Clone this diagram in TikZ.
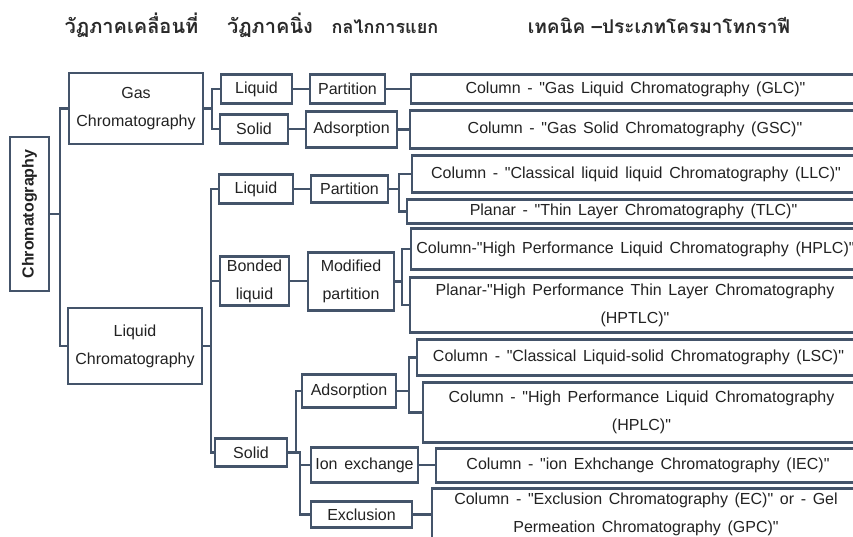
\documentclass[tikz,border=0pt]{standalone}
\usepackage{fontspec}
\setmainfont{Liberation Sans}[WordSpace=1.5,Ligatures=TeXOff]
\newfontfamily\thaifont[Script=Thai]{Loma}
\usetikzlibrary{calc}
\definecolor{bord}{HTML}{44546A}
\definecolor{txt}{HTML}{222222}
\definecolor{head}{HTML}{2A2A2A}
\newcommand\dq{\symbol{34}}
\begin{document}
\begin{tikzpicture}[x=1pt,y=-1pt,
  box/.style={draw=bord,line width=2.2pt,fill=white,inner sep=0pt,align=center,text=txt,
    font=\fontsize{16}{28}\selectfont},
  link/.style={draw=bord,line width=2.2pt},
  hd/.style={anchor=base,text=head,font=\thaifont\bfseries\fontsize{20}{22}\selectfont}]
\useasboundingbox (0,0) rectangle (853,537);
\clip (0,0) rectangle (853,537);
\fill[white] (0,0) rectangle (853,537);
% header
\node[hd] (h1) at (131.5,34) {วัฏภาคเคลื่อนที่};
\node[hd] (h2) at (270,34) {วัฏภาคนิ่ง};
\node[hd,font=\thaifont\bfseries\fontsize{18}{20}\selectfont] (h3) at (385,34) {กลไกการแยก};
\node[hd,font=\thaifont\bfseries\fontsize{19}{21}\selectfont] (h4) at (659,34) {เทคนิค –ประเภทโครมาโทกราฟี};
% nodes
\node[box,minimum width=39pt,minimum height=154pt] (root) at (29.5,214) {\rotatebox{90}{\bfseries Chromatography}};
\node[box,minimum width=134pt,minimum height=71pt] (gc) at (136,108.5) {Gas\\Chromatography};
\node[box,minimum width=134pt,minimum height=76pt] (lc) at (135,346) {Liquid\\Chromatography};
\node[box,minimum width=71pt,minimum height=29pt] (gl) at (256.5,89) {Liquid};
\node[box,minimum width=68pt,minimum height=29pt] (gs) at (254,129) {Solid};
\node[box,minimum width=75pt,minimum height=29pt] (gpart) at (347.5,89) {Partition};
\node[box,minimum width=91pt,minimum height=36pt] (gads) at (351.5,129.5) {Adsorption};
\node[box,minimum width=449pt,minimum height=29pt] (glc) at (635.5,89) {Column - \dq Gas Liquid Chromatography (GLC)\dq};
\node[box,minimum width=450pt,minimum height=38pt] (gsc) at (635,129.5) {Column - \dq Gas Solid Chromatography (GSC)\dq};
\node[box,minimum width=74pt,minimum height=29pt] (ll) at (256,189) {Liquid};
\node[box,minimum width=77pt,minimum height=27pt] (lpart) at (349.5,189) {Partition};
\node[box,minimum width=448pt,minimum height=37pt] (llc) at (636,174) {Column - \dq Classical liquid liquid Chromatography (LLC)\dq};
\node[box,minimum width=453pt,minimum height=24pt] (tlc) at (633.5,211.5) {Planar - \dq Thin Layer Chromatography (TLC)\dq};
\node[box,minimum width=69pt,minimum height=49pt] (bond) at (254.5,281) {Bonded\\liquid};
\node[box,minimum width=86pt,minimum height=58pt] (mod) at (351,281.5) {Modified\\partition};
\node[box,minimum width=449pt,minimum height=41pt] (hplc1) at (635.5,249) {Column-\dq High Performance Liquid Chromatography (HPLC)\dq};
\node[box,minimum width=450pt,minimum height=55pt] (hptlc) at (635,305) {Planar-\dq High Performance Thin Layer Chromatography\\(HPTLC)\dq};
\node[box,minimum width=72pt,minimum height=28pt] (solid) at (251,452.5) {Solid};
\node[box,minimum width=94pt,minimum height=33pt] (ads) at (349,391) {Adsorption};
\node[box,minimum width=443pt,minimum height=36pt] (lsc) at (638.5,357.5) {Column - \dq Classical Liquid-solid Chromatography (LSC)\dq};
\node[box,minimum width=437pt,minimum height=60pt] (hplc2) at (641.5,412.5) {Column - \dq High Performance Liquid Chromatography\\(HPLC)\dq};
\node[box,minimum width=107pt,minimum height=35pt] (ion) at (364.5,465) {Ion exchange};
\node[box,minimum width=101pt,minimum height=26pt] (excl) at (361.5,514.5) {Exclusion};
\node[box,minimum width=424pt,minimum height=34pt] (iec) at (648,465.5) {Column - \dq ion Exhchange Chromatography (IEC)\dq};
\node[box,minimum width=428pt,minimum height=52pt] (gpc) at (646,514.5) {Column - \dq Exclusion Chromatography (EC)\dq{} or - Gel\\Permeation Chromatography (GPC)\dq};
% connectors
\draw[link] (root.east) -- ++(10,0) |- (gc.west);
\draw[link] (root.east) -- ++(10,0) |- (lc.west);
\draw[link] (gc.east) -- ++(8,0) |- (gl.west);
\draw[link] (gc.east) -- ++(8,0) |- (gs.west);
\draw[link] (gl.east) -- (gl.east -| gpart.west);
\draw[link] (gpart.east) -- (gpart.east -| glc.west);
\draw[link] (gs.east) -- (gs.east -| gads.west);
\draw[link] (gads.east) -- (gads.east -| gsc.west);
\draw[link] (lc.east) -- ++(8,0) |- (ll.west);
\draw[link] (lc.east) -- ++(8,0) |- (bond.west);
\draw[link] (lc.east) -- ++(8,0) |- (solid.west);
\draw[link] (ll.east) -- (ll.east -| lpart.west);
\draw[link] (lpart.east) -- ++(10,0) |- (llc.west);
\draw[link] (lpart.east) -- ++(10,0) |- (tlc.west);
\draw[link] (bond.east) -- (bond.east -| mod.west);
\draw[link] (mod.east) -- ++(7,0) |- (hplc1.west);
\draw[link] (mod.east) -- ++(7,0) |- (hptlc.west);
\draw[link] (solid.east) -- ++(8,0) |- (ads.west);
\draw[link] (solid.east) -- ++(12,0) |- (ion.west);
\draw[link] (solid.east) -- ++(12,0) |- (excl.west);
\draw[link] (ads.east) -- ++(12,0) |- (lsc.west);
\draw[link] (ads.east) -- ++(12,0) |- (hplc2.west);
\draw[link] (ion.east) -- (ion.east -| iec.west);
\draw[link] (excl.east) -- (excl.east -| gpc.west);
\end{tikzpicture}
\end{document}
